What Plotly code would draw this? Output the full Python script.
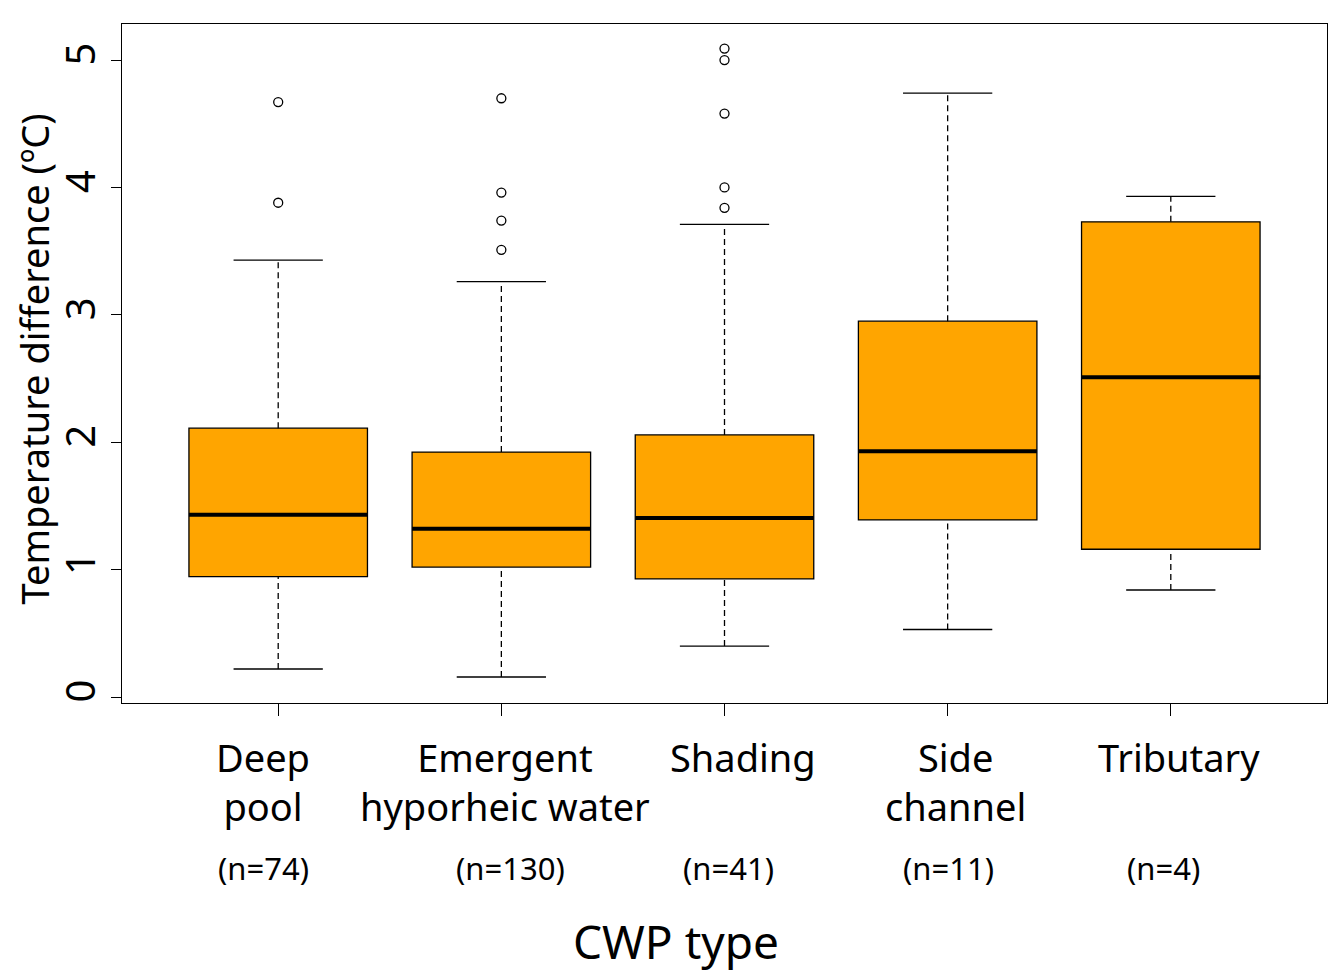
import plotly.graph_objects as go

categories = ["Deep<br>pool", "Emergent<br>hyporheic water", "Shading", "Side<br>channel", "Tributary"]
n_counts = [74, 130, 41, 11, 4]

lower = [0.22, 0.157, 0.40, 0.53, 0.84]
q1 = [0.945, 1.02, 0.927, 1.39, 1.16]
median = [1.43, 1.32, 1.405, 1.93, 2.51]
q3 = [2.11, 1.923, 2.057, 2.95, 3.73]
upper = [3.43, 3.26, 3.71, 4.74, 3.93]
outliers = [
    [3.88, 4.67],
    [3.51, 3.74, 3.96, 4.70],
    [3.84, 4.00, 4.58, 5.00, 5.09],
    [],
    [],
]

FONT = "Noto Sans"
pos = list(range(1, len(categories) + 1))
half_box = 0.4
half_cap = 0.2

fig = go.Figure()

# boxes
fig.add_trace(go.Bar(
    x=pos, y=[b - a for a, b in zip(q1, q3)], base=q1, width=2 * half_box,
    marker=dict(color="#FFA500", line=dict(color="black", width=1.3)),
    hoverinfo="skip",
))

# whiskers (dashed)
wx, wy = [], []
for p, lo, a, b, hi in zip(pos, lower, q1, q3, upper):
    wx += [p, p, None, p, p, None]
    wy += [lo, a, None, b, hi, None]
fig.add_trace(go.Scatter(x=wx, y=wy, mode="lines",
                         line=dict(color="black", width=1.3, dash="6px,4px")))

# whisker caps
cx, cy = [], []
for p, lo, hi in zip(pos, lower, upper):
    cx += [p - half_cap, p + half_cap, None, p - half_cap, p + half_cap, None]
    cy += [lo, lo, None, hi, hi, None]
fig.add_trace(go.Scatter(x=cx, y=cy, mode="lines", line=dict(color="black", width=1.3)))

# medians
mx, my = [], []
for p, m in zip(pos, median):
    mx += [p - half_box, p + half_box, None]
    my += [m, m, None]
fig.add_trace(go.Scatter(x=mx, y=my, mode="lines", line=dict(color="black", width=4)))

# outliers
ox, oy = [], []
for p, vals in zip(pos, outliers):
    ox += [p] * len(vals)
    oy += vals
fig.add_trace(go.Scatter(x=ox, y=oy, mode="markers",
                         marker=dict(symbol="circle-open", size=9, color="black",
                                     line=dict(width=1.3))))

# category labels and counts under the axis
label_shift = [-15, 4, 18, 8, 8]
count_shift = [-15, 9, 4, 1, -7]
for p, lab, n, s1, s2 in zip(pos, categories, n_counts, label_shift, count_shift):
    fig.add_annotation(x=p, y=0, xref="x", yref="paper", text=lab, showarrow=False,
                       yanchor="top", yshift=-26, xshift=s1,
                       font=dict(family=FONT, size=38, color="black"))
    fig.add_annotation(x=p, y=0, xref="x", yref="paper", text=f"(n={n})", showarrow=False,
                       yanchor="middle", yshift=-165, xshift=s2,
                       font=dict(family=FONT, size=31, color="black"))

fig.add_annotation(x=0.46, y=0, xref="paper", yref="paper", text="CWP type", showarrow=False,
                   yanchor="middle", yshift=-238, font=dict(family=FONT, size=46, color="black"))

fig.add_annotation(x=0, y=0.5, xref="paper", yref="paper", text="Temperature difference (ºC)",
                   showarrow=False, textangle=-90, xanchor="center", yanchor="middle",
                   borderpad=0, xshift=-89, yshift=4,
                   font=dict(family=FONT, size=38, color="black"))

fig.update_layout(
    width=1328, height=967,
    margin=dict(l=114, r=9, t=16, b=272),
    paper_bgcolor="white", plot_bgcolor="white",
    showlegend=False,
    font=dict(family=FONT, color="black"),
    xaxis=dict(range=[0.3, 5.7], tickvals=pos, showticklabels=False,
               ticks="outside", ticklen=12, tickcolor="black", tickwidth=1.3,
               showline=True, linecolor="black", linewidth=1.3, mirror=True,
               showgrid=False, zeroline=False),
    yaxis=dict(range=[-0.047, 5.283], tickvals=[0, 1, 2, 3, 4, 5], tickangle=-90,
               ticks="outside", ticklen=10, tickcolor="black", tickwidth=1.3,
               tickfont=dict(family=FONT, size=40, color="black"),
               showline=True, linecolor="black", linewidth=1.3, mirror=True,
               showgrid=False, zeroline=False),
)

fig.write_html("out.html")
